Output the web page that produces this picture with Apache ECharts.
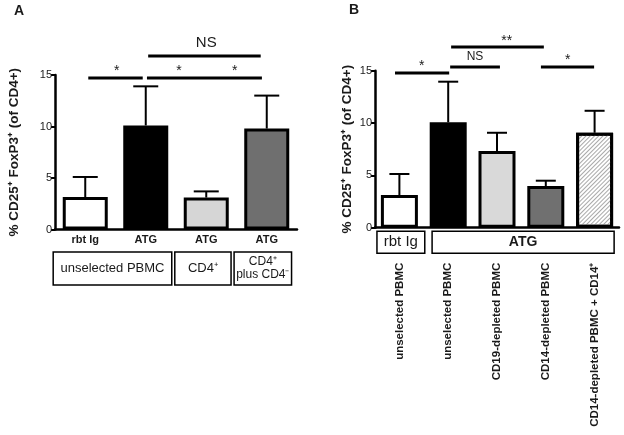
<!DOCTYPE html>
<html><head><meta charset="utf-8">
<script src="https://cdn.jsdelivr.net/npm/echarts@6/dist/echarts.min.js"></script>
<style>html,body{margin:0;padding:0;background:#fff}#c{width:624px;height:435px}</style>
</head><body><div id="c"></div>
<script>
// ---- data ----
const catsA = ['rbt Ig', 'ATG', 'ATG', 'ATG'];
const valuesA = [3.15, 10.1, 3.1, 9.8];
const errorsA = [1.95, 3.8, 0.6, 3.2];
const catsB = ['unselected PBMC', 'unselected PBMC', 'CD19-depleted PBMC', 'CD14-depleted PBMC', 'CD14-depleted PBMC + CD14⁺'];
const valuesB = [3.12, 10.07, 7.33, 3.98, 9.07];
const errorsB = [2.01, 3.88, 1.74, 0.51, 2.1];
const yTicks = [0, 5, 10, 15];
const yName = '% CD25⁺ FoxP3⁺ (of CD4+)';
// significance annotations: [x from (category), x to, y value]
const sigLinesA = [[0.05, 0.95, 14.7], [1.02, 2.92, 14.7], [1.04, 2.9, 16.85]];
const sigTextA = [['*', 0.52, 15.39], ['*', 1.55, 15.39], ['*', 2.47, 15.39], ['NS', 2.0, 18.1]];
const sigLinesB = [[-0.09, 1.02, 14.78], [1.04, 2.06, 15.35], [1.06, 2.96, 17.26], [2.9, 3.99, 15.35]];
const sigTextB = [['*', 0.46, 15.44], ['NS', 1.55, 16.3], ['**', 2.2, 17.83], ['*', 3.45, 16.02]];
// group boxes under axis: [text, category from, category to]
const boxesA = [['unselected PBMC', -0.53, 1.43], ['CD4⁺', 1.48, 2.41], ['CD4⁺\nplus CD4⁻', 2.46, 3.41]];
const boxesB = [['rbt Ig', -0.46, 0.52], ['ATG', 0.67, 4.4]];

// ---- styles ----
const FONT = 'Liberation Sans, Arial, sans-serif';
const TXT = '#1a1a1a';
const fillsA = ['#ffffff', '#000000', '#d6d6d6', '#6f6f6f'];
const fillsB = ['#ffffff', '#000000', '#d9d9d9', '#707070', '#ffffff'];
const hatch = {symbol: 'rect', symbolSize: 1, color: '#a8a8a8', dashArrayX: [1, 0], dashArrayY: [1, 2], rotation: -Math.PI / 4};

const chart = echarts.init(document.getElementById('c'), null, {renderer: 'canvas'});

function yAxisCfg(gi, gap) {
  return {
    gridIndex: gi, type: 'value', min: 0, max: 15, interval: 5,
    axisLine: {show: true, lineStyle: {color: '#000', width: 2.5}},
    axisTick: {show: true, length: 4, lineStyle: {color: '#000', width: 2}},
    axisLabel: {margin: 3, fontSize: 11, color: TXT, fontFamily: FONT},
    splitLine: {show: false},
    name: yName, nameLocation: 'middle', nameGap: gap, nameRotate: 90,
    nameTextStyle: {fontSize: 13.5, fontWeight: 'bold', color: TXT, fontFamily: FONT}
  };
}
function errItem(capHalf) {
  return function (params, api) {
    const x = api.value(0);
    const lo = api.coord([x, api.value(1)]);
    const hi = api.coord([x, api.value(2)]);
    return {type: 'group', children: [
      {type: 'line', shape: {x1: lo[0], y1: lo[1], x2: hi[0], y2: hi[1]}, style: {stroke: '#000', lineWidth: 2}},
      {type: 'line', shape: {x1: hi[0] - capHalf, y1: hi[1], x2: hi[0] + capHalf, y2: hi[1]}, style: {stroke: '#000', lineWidth: 2}}
    ]};
  };
}

chart.setOption({
  animation: false,
  backgroundColor: '#fff',
  grid: [
    {left: 55, top: 75, width: 242, height: 154.5},
    {left: 375, top: 70.7, width: 244, height: 157}
  ],
  xAxis: [
    {gridIndex: 0, type: 'category', data: catsA,
     axisLine: {lineStyle: {color: '#000', width: 2.5}}, axisTick: {show: false},
     axisLabel: {margin: 5, fontSize: 11, fontWeight: 'bold', color: TXT, fontFamily: FONT, interval: 0}},
    {gridIndex: 1, type: 'category', data: catsB,
     axisLine: {lineStyle: {color: '#000', width: 2.5}}, axisTick: {show: false},
     axisLabel: {margin: 35, rotate: 90, fontSize: 11.5, fontWeight: 'bold', color: TXT, fontFamily: FONT, interval: 0}}
  ],
  yAxis: [yAxisCfg(0, 34), yAxisCfg(1, 21)],
  series: [
    {type: 'bar', xAxisIndex: 0, yAxisIndex: 0, barWidth: 45,
     data: valuesA.map((v, i) => ({value: v, itemStyle: {color: fillsA[i]}})),
     itemStyle: {borderColor: '#000', borderWidth: 3}},
    {type: 'custom', xAxisIndex: 0, yAxisIndex: 0, renderItem: errItem(12.5),
     encode: {x: 0, y: [1, 2]},
     data: valuesA.map((v, i) => [i, v, v + errorsA[i]])},
    {type: 'bar', xAxisIndex: 1, yAxisIndex: 1, barWidth: 37,
     data: valuesB.map((v, i) => ({value: v, itemStyle: {color: fillsB[i], decal: i === 4 ? hatch : null}})),
     itemStyle: {borderColor: '#000', borderWidth: 3}},
    {type: 'custom', xAxisIndex: 1, yAxisIndex: 1, renderItem: errItem(10),
     encode: {x: 0, y: [1, 2]},
     data: valuesB.map((v, i) => [i, v, v + errorsB[i]])}
  ]
});

// pixel position of a fractional category position through the axis scale
function px(gi, x, y) {
  const i0 = Math.floor(x);
  const p0 = chart.convertToPixel({gridIndex: gi}, [i0, y]);
  const p1 = chart.convertToPixel({gridIndex: gi}, [i0 + 1, y]);
  return [p0[0] + (x - i0) * (p1[0] - p0[0]), p0[1]];
}
const g = [];
function addSig(gi, lines, texts, nsSize, starSize) {
  lines.forEach(l => {
    const a = px(gi, l[0], l[2]), b = px(gi, l[1], l[2]);
    g.push({type: 'line', shape: {x1: a[0], y1: a[1], x2: b[0], y2: b[1]}, style: {stroke: '#000', lineWidth: 3}});
  });
  texts.forEach(t => {
    const p = px(gi, t[1], t[2]);
    g.push({type: 'text', x: p[0], y: p[1], style: {text: t[0], fontSize: t[0] === 'NS' ? nsSize : starSize,
      fontFamily: FONT, fill: TXT, align: 'center', verticalAlign: 'middle'}});
  });
}
function addBoxes(gi, boxes, off0, off1, styles) {
  boxes.forEach((b, i) => {
    const a = px(gi, b[1], 0), c = px(gi, b[2], 0);
    const y0 = a[1] + off0, y1 = a[1] + off1;
    g.push({type: 'rect', shape: {x: a[0], y: y0, width: c[0] - a[0], height: y1 - y0},
      style: {fill: '#fff', stroke: '#000', lineWidth: 1.5}});
    const s = styles[i];
    g.push({type: 'text', x: (a[0] + c[0]) / 2, y: (y0 + y1) / 2,
      style: {text: b[0], fontSize: s.size, fontWeight: s.weight, fontFamily: FONT, fill: TXT,
        align: 'center', verticalAlign: 'middle', lineHeight: s.size + 1}});
  });
}
addSig(0, sigLinesA, sigTextA, 15, 14);
addSig(1, sigLinesB, sigTextB, 12, 14);
addBoxes(0, boxesA, 22.5, 55.5, [{size: 13, weight: 'normal'}, {size: 13, weight: 'normal'}, {size: 12, weight: 'normal'}]);
addBoxes(1, boxesB, 3.5, 25.5, [{size: 15, weight: 'normal'}, {size: 14, weight: 'bold'}]);
g.push({type: 'text', x: 14, y: 4, style: {text: 'A', fontSize: 14, fontWeight: 'bold', fontFamily: FONT, fill: TXT}});
g.push({type: 'text', x: 349, y: 3, style: {text: 'B', fontSize: 14, fontWeight: 'bold', fontFamily: FONT, fill: TXT}});
chart.setOption({graphic: g});
</script>
</body></html>
